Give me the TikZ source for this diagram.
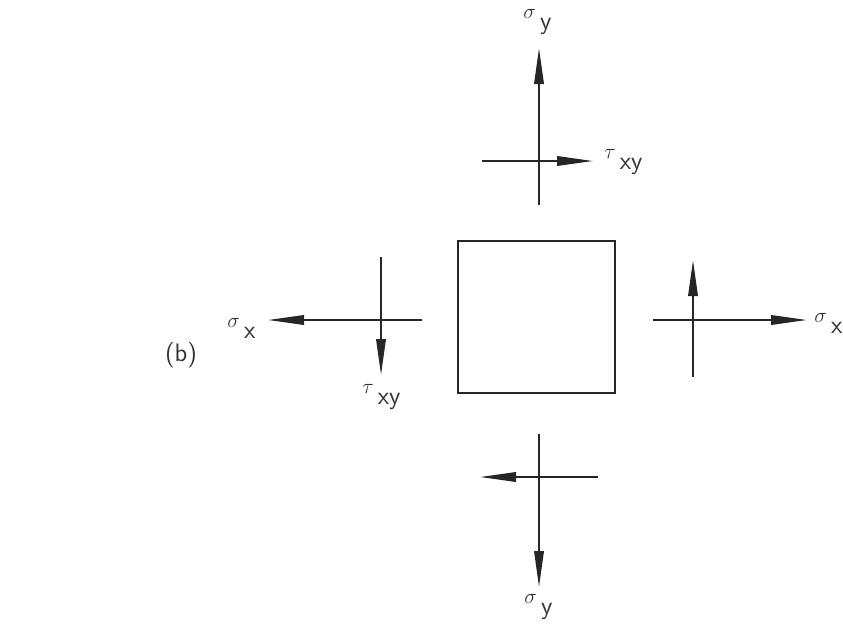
\documentclass[tikz,border=0pt]{standalone}
\usepackage{tikz}
\usetikzlibrary{arrows.meta, positioning}

\begin{document}
\begin{tikzpicture}[
    x=0.2mm, y=-0.2mm,
    every node/.style={font=\sffamily\Large, text=black!80, inner sep=0pt},
    elem/.style={draw=black!85, line width=0.8pt, minimum width=31.4mm, minimum height=30.4mm},
    bar/.style={draw=black!85, line width=1.1pt},
    force/.style={bar, -{Triangle[length=7.2mm, width=1.9mm]}},
    lbl/.style={anchor=base west}
]
\newcommand{\comp}[2]{\raisebox{0.95ex}{\large$#1$}\,#2}
\useasboundingbox (0,0) rectangle (843,627);

\node[elem] (elem) at (536.5,317) {};

% top face
\coordinate (tc) at (539,161);
\coordinate (tN) at (539,48);  \coordinate (tS) at (539,205);
\coordinate (tW) at (482,161); \coordinate (tE) at (593,161);
\draw[force] (tS) -- (tN);
\draw[force] (tW) -- (tE);
\node[lbl] (sytop) at (523,29) {\comp{\sigma}{y}};
\node[lbl] (txytop) at (604,169) {\comp{\tau}{xy}};

% left face
\coordinate (lc) at (381,320);
\coordinate (lW) at (268,320); \coordinate (lE) at (422,320);
\coordinate (lN) at (381,257); \coordinate (lS) at (381,375);
\draw[force] (lE) -- (lW);
\draw[force] (lN) -- (lS);
\node[lbl] (sxleft) at (227,338) {\comp{\sigma}{x}};
\node[lbl] (txyleft) at (362,404) {\comp{\tau}{xy}};

% right face
\coordinate (rc) at (693,320);
\coordinate (rW) at (653,320); \coordinate (rE) at (807,320);
\coordinate (rN) at (693,260); \coordinate (rS) at (693,377);
\draw[force] (rW) -- (rE);
\draw[force] (rS) -- (rN);
\node[lbl] (sxright) at (814,333) {\comp{\sigma}{x}};

% bottom face
\coordinate (bc) at (539,477);
\coordinate (bN) at (539,434); \coordinate (bS) at (539,587);
\coordinate (bW) at (480,477); \coordinate (bE) at (598,477);
\draw[force] (bN) -- (bS);
\draw[force] (bE) -- (bW);
\node[lbl] (sybot) at (524,614) {\comp{\sigma}{y}};

\node (cap) at (181,355) {(b)};
\end{tikzpicture}
\end{document}
